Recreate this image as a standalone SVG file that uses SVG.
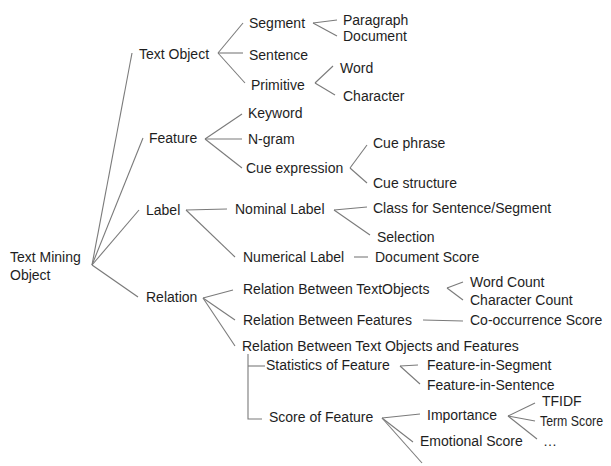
<svg xmlns="http://www.w3.org/2000/svg" width="611" height="466" viewBox="0 0 611 466">
<style>
text{font-family:"Liberation Sans",Arial,sans-serif;font-size:14px;fill:#1e1e1e}
.c line,.c polyline{stroke:#7a7a7a;stroke-width:1.1;fill:none}
</style>
<rect width="611" height="466" fill="#fff"/>
<g class="c" id="connectors">
<line x1="92" y1="265" x2="132" y2="53"/>
<line x1="92" y1="265" x2="143" y2="138"/>
<line x1="92" y1="265" x2="139" y2="210"/>
<line x1="92" y1="265" x2="138" y2="297"/>
<line x1="218" y1="53" x2="243" y2="23"/>
<line x1="218" y1="53" x2="243" y2="53"/>
<line x1="218" y1="53" x2="245" y2="83"/>
<line x1="313" y1="23" x2="337" y2="20"/>
<line x1="313" y1="23" x2="337" y2="36"/>
<line x1="315" y1="83" x2="333" y2="66"/>
<line x1="315" y1="83" x2="335" y2="95"/>
<line x1="205" y1="139" x2="242" y2="114"/>
<line x1="205" y1="139" x2="242" y2="139"/>
<line x1="205" y1="139" x2="242" y2="168"/>
<line x1="350" y1="168" x2="367" y2="145"/>
<line x1="350" y1="168" x2="367" y2="183"/>
<line x1="186" y1="210" x2="227" y2="209"/>
<line x1="186" y1="210" x2="235" y2="257"/>
<line x1="334" y1="210" x2="367" y2="207"/>
<line x1="334" y1="210" x2="370" y2="235"/>
<line x1="354" y1="257" x2="368" y2="257"/>
<line x1="203" y1="298" x2="233" y2="290"/>
<line x1="203" y1="298" x2="235" y2="320"/>
<line x1="203" y1="298" x2="235" y2="346"/>
<line x1="447" y1="288" x2="463" y2="282"/>
<line x1="447" y1="288" x2="463" y2="300"/>
<line x1="423" y1="320" x2="463" y2="321"/>
<polyline points="248,354 248,419 262,419"/>
<line x1="248" y1="366" x2="265" y2="366"/>
<line x1="400" y1="366" x2="418" y2="365"/>
<line x1="400" y1="366" x2="420" y2="384"/>
<line x1="382" y1="418" x2="420" y2="414"/>
<line x1="382" y1="418" x2="413" y2="442"/>
<line x1="382" y1="418" x2="422" y2="463"/>
<line x1="508" y1="416" x2="535" y2="403"/>
<line x1="508" y1="416" x2="535" y2="421"/>
<line x1="508" y1="416" x2="537" y2="439"/>
</g>
<g id="root"><text x="10" y="262">Text Mining</text><text x="10" y="280">Object</text></g>
<g id="text-object"><text x="139" y="59">Text Object</text></g>
<g id="feature"><text x="149" y="143">Feature</text></g>
<g id="label"><text x="146" y="215">Label</text></g>
<g id="relation"><text x="146" y="302">Relation</text></g>
<g id="segment"><text x="249" y="28">Segment</text></g>
<g id="sentence"><text x="249" y="60">Sentence</text></g>
<g id="primitive"><text x="251" y="90">Primitive</text></g>
<g id="paragraph"><text x="343" y="25">Paragraph</text></g>
<g id="document"><text x="343" y="41">Document</text></g>
<g id="word"><text x="340" y="73">Word</text></g>
<g id="character"><text x="343" y="101">Character</text></g>
<g id="keyword"><text x="248" y="118">Keyword</text></g>
<g id="ngram"><text x="248" y="144">N-gram</text></g>
<g id="cue-expression"><text x="246" y="173">Cue expression</text></g>
<g id="cue-phrase"><text x="373" y="148">Cue phrase</text></g>
<g id="cue-structure"><text x="373" y="188">Cue structure</text></g>
<g id="nominal-label"><text x="235" y="214">Nominal Label</text></g>
<g id="class"><text x="373" y="213">Class for Sentence/Segment</text></g>
<g id="selection"><text x="377" y="242">Selection</text></g>
<g id="numerical-label"><text x="243" y="262">Numerical Label</text></g>
<g id="document-score"><text x="375" y="262">Document Score</text></g>
<g id="rel-textobjects"><text x="243" y="294">Relation Between TextObjects</text></g>
<g id="word-count"><text x="470" y="287">Word Count</text></g>
<g id="character-count"><text x="470" y="305">Character Count</text></g>
<g id="rel-features"><text x="243" y="325">Relation Between Features</text></g>
<g id="cooccurrence"><text x="470" y="325">Co-occurrence Score</text></g>
<g id="rel-both"><text x="242" y="351">Relation Between Text Objects and Features</text></g>
<g id="statistics"><text x="266" y="370">Statistics of Feature</text></g>
<g id="fis-segment"><text x="427" y="370">Feature-in-Segment</text></g>
<g id="fis-sentence"><text x="427" y="390">Feature-in-Sentence</text></g>
<g id="score"><text x="269" y="422">Score of Feature</text></g>
<g id="importance"><text x="427" y="420">Importance</text></g>
<g id="tfidf"><text x="542" y="406">TFIDF</text></g>
<g id="term-score"><text x="540" y="426" font-size="13" textLength="63" lengthAdjust="spacingAndGlyphs">Term Score</text></g>
<g id="etc"><text x="543" y="446">…</text></g>
<g id="emotional"><text x="420" y="446">Emotional Score</text></g>
</svg>
